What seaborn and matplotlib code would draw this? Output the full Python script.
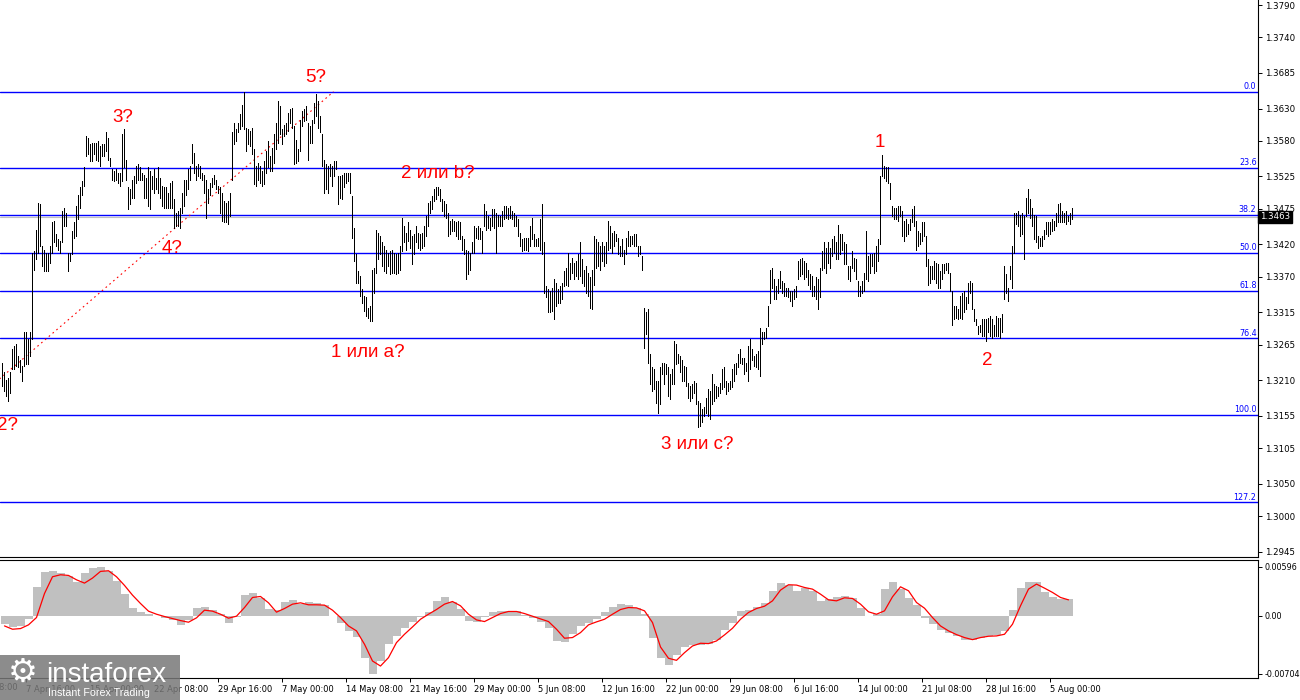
import numpy as np
import matplotlib
matplotlib.use("Agg")
import matplotlib.pyplot as plt
import matplotlib.transforms as mtransforms
from matplotlib.patches import Rectangle
import seaborn as sns

# ---------------- DATA (H4 bars: high / low prices) ----------------
high_1 = [1.3237, 1.3222, 1.3211, 1.3214, 1.3222, 1.3258, 1.3263, 1.3266, 1.3248, 1.3242,
          1.3232, 1.3284, 1.3284, 1.3273, 1.3284, 1.3407, 1.3410, 1.3443, 1.3484, 1.3482,
          1.3418, 1.3412, 1.3407, 1.3407, 1.3418, 1.3454, 1.3456, 1.3436, 1.3428, 1.3425,
          1.3472, 1.3477, 1.3469, 1.3407, 1.3407, 1.3441, 1.3454, 1.3479, 1.3497, 1.3508,
          1.3518, 1.3539, 1.3587, 1.3585, 1.3575, 1.3577, 1.3577, 1.3577, 1.3580, 1.3572,
          1.3575, 1.3575, 1.3594, 1.3585, 1.3554, 1.3536, 1.3533, 1.3536, 1.3531, 1.3531,
          1.3590, 1.3598, 1.3551, 1.3508, 1.3505, 1.3520, 1.3526, 1.3541, 1.3544, 1.3539,
          1.3531, 1.3528, 1.3523, 1.3539, 1.3533, 1.3526, 1.3536, 1.3523, 1.3539, 1.3523,
          1.3510, 1.3508, 1.3508, 1.3500, 1.3515, 1.3518, 1.3490, 1.3469, 1.3472, 1.3477,
          1.3500, 1.3520, 1.3520, 1.3536, 1.3541, 1.3575, 1.3562, 1.3541, 1.3544, 1.3541,
          1.3531, 1.3528, 1.3520, 1.3505, 1.3515, 1.3523, 1.3528, 1.3520, 1.3510, 1.3508]
low_1 = [1.3201, 1.3194, 1.3186, 1.3178, 1.3191, 1.3227, 1.3227, 1.3232, 1.3230, 1.3222,
         1.3209, 1.3232, 1.3235, 1.3235, 1.3248, 1.3273, 1.3381, 1.3397, 1.3407, 1.3418,
         1.3387, 1.3379, 1.3379, 1.3379, 1.3392, 1.3407, 1.3423, 1.3418, 1.3412, 1.3407,
         1.3423, 1.3448, 1.3448, 1.3379, 1.3394, 1.3405, 1.3430, 1.3433, 1.3459, 1.3477,
         1.3497, 1.3510, 1.3557, 1.3559, 1.3549, 1.3549, 1.3559, 1.3551, 1.3549, 1.3541,
         1.3557, 1.3557, 1.3564, 1.3551, 1.3541, 1.3520, 1.3518, 1.3520, 1.3515, 1.3510,
         1.3518, 1.3539, 1.3520, 1.3474, 1.3482, 1.3492, 1.3492, 1.3515, 1.3520, 1.3520,
         1.3520, 1.3492, 1.3492, 1.3479, 1.3474, 1.3505, 1.3500, 1.3505, 1.3500, 1.3492,
         1.3479, 1.3477, 1.3477, 1.3477, 1.3477, 1.3477, 1.3446, 1.3448, 1.3448, 1.3446,
         1.3469, 1.3479, 1.3497, 1.3505, 1.3520, 1.3546, 1.3531, 1.3520, 1.3526, 1.3523,
         1.3520, 1.3500, 1.3461, 1.3484, 1.3497, 1.3508, 1.3513, 1.3505, 1.3500, 1.3469]

high_2 = [1.3500, 1.3487, 1.3484, 1.3487, 1.3500, 1.3593, 1.3608, 1.3598, 1.3608, 1.3621,
          1.3636, 1.3656, 1.3600, 1.3598, 1.3595, 1.3600, 1.3567, 1.3541, 1.3546, 1.3541,
          1.3533, 1.3549, 1.3564, 1.3580, 1.3557, 1.3569, 1.3590, 1.3608, 1.3642, 1.3634,
          1.3598, 1.3605, 1.3608, 1.3623, 1.3629, 1.3631, 1.3603, 1.3582, 1.3567, 1.3613,
          1.3626, 1.3629, 1.3634, 1.3608, 1.3603, 1.3613, 1.3639, 1.3652, 1.3642, 1.3618,
          1.3590, 1.3551, 1.3544, 1.3541, 1.3544, 1.3541, 1.3549, 1.3549, 1.3526, 1.3526,
          1.3528, 1.3531, 1.3531, 1.3531, 1.3531, 1.3495, 1.3446, 1.3405, 1.3379, 1.3371,
          1.3351, 1.3340, 1.3338, 1.3322, 1.3325, 1.3381, 1.3384, 1.3443, 1.3438, 1.3433,
          1.3423, 1.3418, 1.3412, 1.3407, 1.3410, 1.3412, 1.3407, 1.3405, 1.3407, 1.3418,
          1.3461, 1.3448, 1.3438, 1.3454, 1.3443, 1.3433, 1.3436, 1.3448, 1.3438, 1.3436,
          1.3438, 1.3448, 1.3464, 1.3484, 1.3487, 1.3495, 1.3505]
low_2 = [1.3456, 1.3454, 1.3454, 1.3451, 1.3464, 1.3520, 1.3575, 1.3580, 1.3593, 1.3598,
         1.3603, 1.3598, 1.3564, 1.3575, 1.3572, 1.3559, 1.3513, 1.3510, 1.3520, 1.3515,
         1.3510, 1.3513, 1.3531, 1.3539, 1.3533, 1.3533, 1.3546, 1.3567, 1.3577, 1.3590,
         1.3575, 1.3587, 1.3590, 1.3595, 1.3608, 1.3600, 1.3544, 1.3546, 1.3549, 1.3564,
         1.3603, 1.3611, 1.3613, 1.3551, 1.3577, 1.3577, 1.3608, 1.3618, 1.3600, 1.3593,
         1.3541, 1.3500, 1.3505, 1.3500, 1.3526, 1.3510, 1.3526, 1.3536, 1.3482, 1.3492,
         1.3490, 1.3508, 1.3515, 1.3518, 1.3500, 1.3430, 1.3394, 1.3361, 1.3361, 1.3340,
         1.3330, 1.3317, 1.3309, 1.3307, 1.3302, 1.3302, 1.3345, 1.3376, 1.3397, 1.3405,
         1.3387, 1.3379, 1.3376, 1.3387, 1.3374, 1.3376, 1.3376, 1.3374, 1.3376, 1.3381,
         1.3410, 1.3423, 1.3412, 1.3425, 1.3415, 1.3389, 1.3405, 1.3423, 1.3415, 1.3412,
         1.3415, 1.3418, 1.3433, 1.3448, 1.3469, 1.3474, 1.3487]

high_3 = [1.3508, 1.3508, 1.3505, 1.3490, 1.3487, 1.3482, 1.3469, 1.3456, 1.3459, 1.3456,
          1.3454, 1.3456, 1.3454, 1.3433, 1.3428, 1.3412, 1.3410, 1.3407, 1.3423, 1.3448,
          1.3446, 1.3448, 1.3446, 1.3441, 1.3482, 1.3472, 1.3464, 1.3461, 1.3474, 1.3474,
          1.3469, 1.3466, 1.3464, 1.3472, 1.3479, 1.3479, 1.3477, 1.3479, 1.3472, 1.3469,
          1.3464, 1.3459, 1.3438, 1.3428, 1.3430, 1.3430, 1.3430, 1.3448, 1.3461, 1.3436,
          1.3428, 1.3430, 1.3459, 1.3482, 1.3423, 1.3356, 1.3351, 1.3348, 1.3353, 1.3366,
          1.3361, 1.3351, 1.3356, 1.3361, 1.3379, 1.3384, 1.3407, 1.3392, 1.3399, 1.3392,
          1.3394, 1.3405, 1.3423, 1.3397, 1.3381, 1.3387, 1.3376, 1.3369, 1.3381, 1.3433,
          1.3428, 1.3423, 1.3418, 1.3423, 1.3418, 1.3423, 1.3456, 1.3448, 1.3438, 1.3441,
          1.3436, 1.3430, 1.3418, 1.3428, 1.3412, 1.3430, 1.3441, 1.3433, 1.3433, 1.3436,
          1.3436, 1.3418, 1.3418, 1.3402, 1.3322, 1.3315, 1.3320, 1.3250]
low_3 = [1.3490, 1.3497, 1.3487, 1.3472, 1.3464, 1.3461, 1.3433, 1.3436, 1.3441, 1.3441,
         1.3433, 1.3428, 1.3428, 1.3412, 1.3405, 1.3366, 1.3374, 1.3381, 1.3407, 1.3407,
         1.3430, 1.3428, 1.3428, 1.3407, 1.3448, 1.3443, 1.3446, 1.3443, 1.3448, 1.3446,
         1.3407, 1.3448, 1.3448, 1.3448, 1.3459, 1.3461, 1.3459, 1.3461, 1.3459, 1.3448,
         1.3448, 1.3433, 1.3418, 1.3410, 1.3412, 1.3412, 1.3410, 1.3418, 1.3428, 1.3418,
         1.3418, 1.3418, 1.3412, 1.3405, 1.3345, 1.3338, 1.3315, 1.3315, 1.3317, 1.3304,
         1.3325, 1.3330, 1.3330, 1.3335, 1.3356, 1.3358, 1.3356, 1.3366, 1.3376, 1.3366,
         1.3371, 1.3366, 1.3371, 1.3361, 1.3356, 1.3345, 1.3340, 1.3322, 1.3320, 1.3358,
         1.3384, 1.3387, 1.3381, 1.3394, 1.3387, 1.3392, 1.3412, 1.3415, 1.3407, 1.3418,
         1.3425, 1.3405, 1.3402, 1.3402, 1.3389, 1.3405, 1.3418, 1.3418, 1.3420, 1.3418,
         1.3418, 1.3402, 1.3405, 1.3381, 1.3260, 1.3281, 1.3237, 1.3204]

high_4 = [1.3230, 1.3227, 1.3209, 1.3209, 1.3230, 1.3237, 1.3237, 1.3235, 1.3230, 1.3219,
          1.3227, 1.3271, 1.3266, 1.3250, 1.3248, 1.3242, 1.3232, 1.3230, 1.3206, 1.3201,
          1.3204, 1.3209, 1.3206, 1.3178, 1.3175, 1.3165, 1.3168, 1.3183, 1.3196, 1.3194,
          1.3219, 1.3204, 1.3201, 1.3199, 1.3206, 1.3227, 1.3230, 1.3209, 1.3206, 1.3209,
          1.3227, 1.3235, 1.3237, 1.3250, 1.3258, 1.3245, 1.3245, 1.3237, 1.3263, 1.3273,
          1.3258, 1.3248, 1.3250, 1.3255, 1.3291, 1.3284, 1.3284, 1.3291, 1.3325, 1.3381,
          1.3384, 1.3366, 1.3356, 1.3366, 1.3379, 1.3363, 1.3361, 1.3353, 1.3353, 1.3348,
          1.3348, 1.3351, 1.3356, 1.3394, 1.3397, 1.3399, 1.3394, 1.3392, 1.3381, 1.3374,
          1.3371, 1.3356, 1.3369, 1.3366, 1.3384, 1.3410, 1.3423, 1.3415, 1.3423, 1.3415,
          1.3428, 1.3433, 1.3423, 1.3450, 1.3436, 1.3436, 1.3423, 1.3420, 1.3387, 1.3387,
          1.3410, 1.3399, 1.3397, 1.3363, 1.3356, 1.3363, 1.3376]
low_4 = [1.3193, 1.3196, 1.3175, 1.3160, 1.3173, 1.3219, 1.3204, 1.3219, 1.3186, 1.3181,
         1.3204, 1.3204, 1.3235, 1.3237, 1.3222, 1.3209, 1.3209, 1.3201, 1.3183, 1.3178,
         1.3183, 1.3191, 1.3173, 1.3137, 1.3139, 1.3145, 1.3155, 1.3160, 1.3155, 1.3150,
         1.3173, 1.3178, 1.3183, 1.3186, 1.3191, 1.3196, 1.3199, 1.3188, 1.3194, 1.3196,
         1.3199, 1.3209, 1.3219, 1.3230, 1.3237, 1.3235, 1.3219, 1.3224, 1.3209, 1.3227,
         1.3242, 1.3232, 1.3230, 1.3227, 1.3217, 1.3266, 1.3273, 1.3276, 1.3294, 1.3330,
         1.3353, 1.3335, 1.3335, 1.3345, 1.3353, 1.3345, 1.3340, 1.3340, 1.3338, 1.3333,
         1.3325, 1.3335, 1.3338, 1.3366, 1.3371, 1.3374, 1.3366, 1.3369, 1.3358, 1.3351,
         1.3340, 1.3340, 1.3335, 1.3320, 1.3338, 1.3381, 1.3384, 1.3376, 1.3392, 1.3384,
         1.3402, 1.3407, 1.3397, 1.3397, 1.3405, 1.3412, 1.3389, 1.3389, 1.3366, 1.3363,
         1.3384, 1.3379, 1.3366, 1.3340, 1.3340, 1.3345, 1.3348]

high_5 = [1.3441, 1.3402, 1.3405, 1.3405, 1.3407, 1.3418, 1.3428, 1.3526, 1.3558, 1.3541,
          1.3539, 1.3539, 1.3515, 1.3479, 1.3477, 1.3477, 1.3479, 1.3479, 1.3472, 1.3456,
          1.3459, 1.3451, 1.3459, 1.3474, 1.3479, 1.3456, 1.3441, 1.3438, 1.3454, 1.3454,
          1.3433, 1.3397, 1.3387, 1.3387, 1.3394, 1.3392, 1.3389, 1.3379, 1.3389, 1.3389,
          1.3392, 1.3392, 1.3376, 1.3348, 1.3325, 1.3325, 1.3320, 1.3340, 1.3345, 1.3348,
          1.3338, 1.3361, 1.3363, 1.3361, 1.3320, 1.3304, 1.3294, 1.3296, 1.3304, 1.3304,
          1.3304, 1.3307, 1.3309, 1.3304, 1.3296, 1.3309, 1.3307, 1.3307, 1.3312, 1.3387,
          1.3374, 1.3353, 1.3387, 1.3418, 1.3469, 1.3469, 1.3472, 1.3466, 1.3469, 1.3464,
          1.3492, 1.3505, 1.3490, 1.3477, 1.3466, 1.3464, 1.3433, 1.3430, 1.3433, 1.3443,
          1.3454, 1.3454, 1.3454, 1.3459, 1.3456, 1.3469, 1.3482, 1.3484, 1.3472, 1.3469,
          1.3472, 1.3464, 1.3469, 1.3477]
low_5 = [1.3366, 1.3363, 1.3376, 1.3387, 1.3376, 1.3379, 1.3394, 1.3420, 1.3526, 1.3523,
         1.3518, 1.3515, 1.3490, 1.3464, 1.3459, 1.3459, 1.3456, 1.3464, 1.3433, 1.3425,
         1.3433, 1.3436, 1.3443, 1.3454, 1.3448, 1.3412, 1.3418, 1.3420, 1.3425, 1.3433,
         1.3387, 1.3358, 1.3361, 1.3366, 1.3366, 1.3361, 1.3353, 1.3353, 1.3366, 1.3376,
         1.3381, 1.3376, 1.3348, 1.3296, 1.3304, 1.3307, 1.3304, 1.3307, 1.3304, 1.3315,
         1.3320, 1.3330, 1.3345, 1.3320, 1.3302, 1.3296, 1.3281, 1.3284, 1.3278, 1.3278,
         1.3271, 1.3284, 1.3278, 1.3276, 1.3278, 1.3278, 1.3278, 1.3276, 1.3284, 1.3335,
         1.3345, 1.3333, 1.3366, 1.3353, 1.3407, 1.3451, 1.3448, 1.3433, 1.3436, 1.3397,
         1.3464, 1.3469, 1.3461, 1.3448, 1.3428, 1.3423, 1.3415, 1.3418, 1.3418, 1.3428,
         1.3436, 1.3433, 1.3436, 1.3441, 1.3443, 1.3448, 1.3454, 1.3454, 1.3454, 1.3454,
         1.3451, 1.3456, 1.3451, 1.3460]

last_price = 1.3463

# MACD (12,26,9) read every 4 bars: histogram and signal line
macd_hist = [-0.00101, -0.00134, -0.00122, -0.00041, 0.00344, 0.00527, 0.00539, 0.00514, 0.00486, 0.00405,
             0.00514, 0.00579, 0.00596, 0.00547, 0.00417, 0.00263, 0.00093, 0.00041, 0.00020, 0.00000,
             -0.00020, -0.00053, -0.00109, -0.00053, 0.00093, 0.00109, 0.00069, 0.00020, -0.00081, -0.00012,
             0.00255, 0.00279, 0.00215, 0.00081, 0.00069, 0.00174, 0.00198, 0.00142, 0.00162, 0.00150,
             0.00126, 0.00000, -0.00081, -0.00182, -0.00255, -0.00506, -0.00704, -0.00547, -0.00344, -0.00243,
             -0.00150, -0.00073, -0.00012, 0.00049, 0.00182, 0.00223, 0.00170, 0.00081, -0.00061, -0.00069,
             -0.00008, 0.00045, 0.00061, 0.00061, 0.00057, 0.00012, -0.00028, -0.00069, -0.00142, -0.00304,
             -0.00316, -0.00223, -0.00126, -0.00081, -0.00041, 0.00041, 0.00109, 0.00142, 0.00130, 0.00093,
             0.00028, -0.00263, -0.00506, -0.00599, -0.00474, -0.00377, -0.00348, -0.00352, -0.00336, -0.00296,
             -0.00166, -0.00089, 0.00061, 0.00077, 0.00109, 0.00150, 0.00304, 0.00393, 0.00377, 0.00304,
             0.00332, 0.00300, 0.00182, 0.00203, 0.00231, 0.00243, 0.00211, 0.00093, -0.00004, 0.00028,
             0.00324, 0.00413, 0.00324, 0.00215, 0.00130, -0.00020, -0.00101, -0.00174, -0.00211, -0.00243,
             -0.00292, -0.00296, -0.00271, -0.00239, -0.00227, -0.00182, 0.00069, 0.00336, 0.00405, 0.00405,
             0.00284, 0.00223, 0.00203, 0.00203]
macd_signal = [-0.00122, -0.00162, -0.00154, -0.00109, -0.00020, 0.00271, 0.00474, 0.00498, 0.00490, 0.00437,
               0.00397, 0.00458, 0.00539, 0.00547, 0.00474, 0.00369, 0.00251, 0.00150, 0.00057, 0.00020,
               -0.00008, -0.00032, -0.00057, -0.00077, -0.00024, 0.00069, 0.00057, 0.00020, -0.00028, -0.00004,
               0.00101, 0.00223, 0.00235, 0.00158, 0.00045, 0.00089, 0.00142, 0.00158, 0.00134, 0.00134,
               0.00130, 0.00069, -0.00020, -0.00122, -0.00182, -0.00344, -0.00547, -0.00608, -0.00506, -0.00324,
               -0.00223, -0.00134, -0.00041, 0.00020, 0.00077, 0.00142, 0.00174, 0.00122, 0.00020, -0.00049,
               -0.00069, -0.00020, 0.00028, 0.00053, 0.00053, 0.00028, -0.00004, -0.00036, -0.00069, -0.00162,
               -0.00271, -0.00263, -0.00203, -0.00109, -0.00073, -0.00041, 0.00020, 0.00077, 0.00101, 0.00097,
               0.00061, -0.00081, -0.00377, -0.00514, -0.00539, -0.00446, -0.00365, -0.00332, -0.00336, -0.00304,
               -0.00231, -0.00150, -0.00041, 0.00041, 0.00089, 0.00117, 0.00182, 0.00312, 0.00377, 0.00373,
               0.00344, 0.00324, 0.00263, 0.00194, 0.00182, 0.00219, 0.00211, 0.00142, 0.00049, 0.00020,
               0.00061, 0.00231, 0.00352, 0.00304, 0.00162, 0.00093, -0.00020, -0.00122, -0.00182, -0.00227,
               -0.00263, -0.00288, -0.00263, -0.00247, -0.00243, -0.00223, -0.00101, 0.00122, 0.00324, 0.00385,
               0.00336, 0.00284, 0.00223, 0.00194]

# Fibonacci grid (0 at the high, 100 at the low)
fib_high = 1.3656
fib_low = 1.3157
fib_levels = [0.0, 23.6, 38.2, 50.0, 61.8, 76.4, 100.0, 127.2]

# price axis ticks
price_ticks = [1.3790, 1.3740, 1.3685, 1.3630, 1.3580, 1.3525, 1.3475, 1.3420, 1.3370,
               1.3315, 1.3265, 1.3210, 1.3155, 1.3105, 1.3050, 1.3000, 1.2945]
macd_ticks = [0.00596, 0.0, -0.00704]
macd_tick_labels = ["0.00596", "0.00", "-0.00704"]

# time axis (label every 32 H4 bars)
time_labels = ["7 Apr 16:00", "15 Apr 00:00", "22 Apr 08:00", "29 Apr 16:00", "7 May 00:00",
               "14 May 08:00", "21 May 16:00", "29 May 00:00", "5 Jun 08:00", "12 Jun 16:00",
               "22 Jun 00:00", "29 Jun 08:00", "6 Jul 16:00", "14 Jul 00:00", "21 Jul 08:00",
               "28 Jul 16:00", "5 Aug 00:00"]
time_label_bars = [12, 44, 76, 108, 140, 172, 204, 236, 268, 300, 332, 364, 396, 428, 460, 492, 524]
first_cut_label = "31 Mar 08:00"
first_cut_bar = -20

# wave markings
wave_text = ["2?", "3?", "4?", "5?", "1 или a?", "2 или b?", "3 или c?", "1", "2"]
wave_bar = [3, 61, 86, 157, 184, 218, 348, 440, 492]
wave_at_high = [False, True, False, True, False, True, False, True, False]

# trend line (dotted red)
trend_bars = [-1, 166]
trend_prices = [1.3212, 1.3656]

# ---------------- PLOT ----------------
sns.set_style("white")
plt.rcParams['font.family'] = ['DejaVu Sans']

highs = np.array(high_1 + high_2 + high_3 + high_4 + high_5)
lows = np.array(low_1 + low_2 + low_3 + low_4 + low_5)
bars = np.arange(len(highs))

W, H = 1300, 700
fig = plt.figure(figsize=(W / 100, H / 100), dpi=100)
fig.patch.set_facecolor("white")
ax = fig.add_axes([0, 1 - 557 / H, 1258 / W, 557 / H])
axm = fig.add_axes([0, 1 - 678 / H, 1258 / W, 118 / H], sharex=ax)

xlim = (-0.75, 628.25)
ax.set_xlim(*xlim)
ax.set_ylim(1.293683, 1.379773)

# fibonacci lines and labels
ax.axhline(last_price, color="#c0c0c0", lw=0.8, zorder=1)
ytrans = mtransforms.blended_transform_factory(ax.transAxes, ax.transData)
for lv in fib_levels:
    p = fib_high - (fib_high - fib_low) * lv / 100.0
    ax.axhline(p, color="#0000ff", lw=1.0, zorder=2)
    ax.text(1 - 1.5 / 1258, p + 0.00012, f"{lv:.1f}", transform=ytrans, ha="right",
            va="bottom", color="#0000ff", fontsize=5.8, zorder=3)

# trend line
ax.plot(trend_bars, trend_prices, color="red", lw=0.8, linestyle=(0, (1.5, 3)), zorder=3)

# OHLC bars (high-low)
ax.vlines(bars, lows, highs, colors="black", linewidth=0.45, antialiased=False, zorder=4)

# wave labels
label_dy = {"2?": -29, "3?": 7, "4?": -25, "5?": 12, "1 или a?": -36,
            "2 или b?": 9, "3 или c?": -22, "1": 8, "2": -24}
label_dx = {"2?": 0, "3?": -1, "4?": -1, "5?": 0, "1 или a?": -2,
            "2 или b?": 0, "3 или c?": 0, "1": -1.5, "2": 1.5}
for t, b, hi in zip(wave_text, wave_bar, wave_at_high):
    anchor = highs[b] if hi else lows[b]
    ax.annotate(t, xy=(b, anchor), xytext=(label_dx[t], label_dy[t]), textcoords="offset pixels",
                ha="center", va="baseline", color="#ff0000", fontsize=13.5,
                family=["Liberation Sans", "DejaVu Sans"], zorder=6,
                annotation_clip=False)

# axes styling main
for s in ["top", "left"]:
    ax.spines[s].set_visible(False)
for s in ["right", "bottom"]:
    ax.spines[s].set_color("black")
    ax.spines[s].set_linewidth(0.8)
ax.yaxis.tick_right()
ax.set_yticks(price_ticks)
ax.set_yticklabels([f"{v:.4f}" for v in price_ticks])
ax.tick_params(axis="y", right=True, left=False, direction="out", length=3, width=0.7,
               labelsize=6.2, pad=2, colors="black")
ax.tick_params(axis="x", bottom=False, labelbottom=False)

# current price box
ax.text(1 + 2 / 1258, last_price, "1.3463", transform=ytrans, ha="left", va="center",
        color="white", fontsize=6.2, zorder=20, clip_on=False,
        bbox=dict(boxstyle="square,pad=0.18", fc="black", ec="black"))

# MACD
hist_pos = np.arange(len(macd_hist)) * 4 + 1.5
axm.bar(hist_pos, macd_hist, width=4, color="#c0c0c0", linewidth=0, antialiased=False, zorder=2)
sns.lineplot(x=hist_pos, y=macd_signal, ax=axm, color="#ff0000", linewidth=0.9, zorder=3,
             legend=False)
axm.set_ylim(-0.00753, 0.00677)
axm.set_xlim(*xlim)
axm.spines["left"].set_visible(False)
for s in ["right", "bottom", "top"]:
    axm.spines[s].set_color("black")
    axm.spines[s].set_linewidth(0.8)
axm.yaxis.tick_right()
axm.set_yticks(macd_ticks)
axm.set_yticklabels(macd_tick_labels)
axm.tick_params(axis="y", right=True, left=False, direction="out", length=3, width=0.7,
                labelsize=5.8, pad=1.5, colors="black")
axm.set_xticks(time_label_bars)
axm.set_xticklabels(time_labels, ha="left")
axm.tick_params(axis="x", bottom=True, direction="out", length=3, width=0.7,
                labelsize=6.0, pad=2, colors="black")
axm.set_ylabel("")
axm.set_xlabel("")
xtrans = mtransforms.blended_transform_factory(axm.transData, axm.transAxes)
axm.text(first_cut_bar, -0.045, first_cut_label, transform=xtrans, ha="left", va="top",
         fontsize=6.0, color="black", clip_on=False)

# watermark
fig.add_artist(Rectangle((0, 0), 180 / W, 45 / H, transform=fig.transFigure,
                         facecolor="#787878", edgecolor="none", alpha=0.85, zorder=30))
fig.text(23 / W, 1 - 672 / H, "\u2699", color="white", fontsize=24, ha="center",
         va="center", zorder=31, family=["DejaVu Sans"])
fig.text(46 / W, 1 - 682 / H, "instaforex", color="white", fontsize=20, ha="left",
         va="baseline", zorder=31, family=["Liberation Sans", "DejaVu Sans"])
fig.text(48 / W, 1 - 696 / H, "Instant Forex Trading", color="white", fontsize=7.7,
         ha="left", va="baseline", zorder=31, family=["Liberation Sans", "DejaVu Sans"])

fig.savefig("out.png", dpi=100, facecolor="white")
